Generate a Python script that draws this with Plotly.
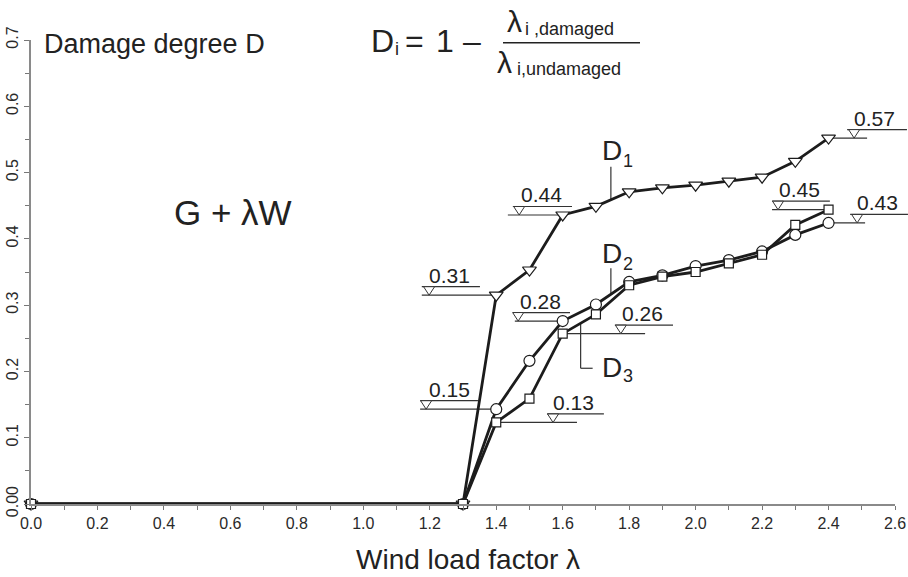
import numpy as np
import plotly.graph_objects as go

# ---------------- data ----------------
lam = [0.0, 1.3, 1.4, 1.5, 1.6, 1.7, 1.8, 1.9, 2.0, 2.1, 2.2, 2.3, 2.4]
D1 = [0.0, 0.0, 0.315, 0.353, 0.436, 0.449, 0.471, 0.477, 0.481, 0.487, 0.493, 0.517, 0.552]
D2 = [0.0, 0.0, 0.143, 0.216, 0.276, 0.301, 0.335, 0.345, 0.359, 0.368, 0.381, 0.406, 0.424]
D3 = [0.0, 0.0, 0.123, 0.159, 0.257, 0.286, 0.330, 0.343, 0.350, 0.363, 0.376, 0.421, 0.444]

x_ticks = [0.0, 0.2, 0.4, 0.6, 0.8, 1.0, 1.2, 1.4, 1.6, 1.8, 2.0, 2.2, 2.4, 2.6]
x_ticktext = ["0.0", "0.2", "0.4", "0.6", "0.8", "1.0", "1.2", "1.4", "1.6", "1.8", "2.0", "2.2", "2.4", "2.6"]
y_ticks = [0.0, 0.1, 0.2, 0.3, 0.4, 0.5, 0.6, 0.7]
y_ticktext = ["0.00", "0.1", "0.2", "0.3", "0.4", "0.5", "0.6", "0.7"]

# level labels: text, series, lambda of anchored point
level_labels = ["0.31", "0.15", "0.13", "0.28", "0.26", "0.44", "0.57", "0.45", "0.43"]
level_series = ["D1", "D2", "D3", "D2", "D3", "D1", "D1", "D3", "D2"]
level_lambda = [1.4, 1.4, 1.4, 1.6, 1.6, 1.6, 2.4, 2.4, 2.4]

# ---------------- layout geometry ----------------
W, H = 908, 577
L, R, T, B = 31, 13, 40, 73
PW, PH = W - L - R, H - T - B
XMAX, YMAX = 2.6, 0.7
FONT = "Liberation Sans, Arial, Helvetica, sans-serif"
TXT = "#222222"
LINEC = "#1c1c1c"
THIN = "#333333"

series = {"D1": D1, "D2": D2, "D3": D3}


def dx(x):  # data x -> pixel
    return L + x / XMAX * PW


def dy(y):  # data y -> pixel
    return T + PH - y / YMAX * PH


def px(p):  # pixel x -> paper
    return (p - L) / PW


def py(p):  # pixel y -> paper
    return (T + PH - p) / PH


def ann(text, x_px, y_px, size, xanchor="left"):
    return dict(text=text, x=px(x_px), y=py(y_px), xref="paper", yref="paper",
                xanchor=xanchor, yanchor="middle", showarrow=False, borderpad=0,
                font=dict(size=size, color=TXT, family=FONT))


def seg(x0, y0, x1, y1, width=1.2, color=THIN, layer="below"):
    return dict(type="line", xref="paper", yref="paper",
                x0=px(x0), y0=py(y0), x1=px(x1), y1=py(y1),
                line=dict(color=color, width=width), layer=layer)


fig = go.Figure()

fig.add_trace(go.Scatter(x=lam, y=D1, mode="lines+markers", name="D1",
                         line=dict(color=LINEC, width=2.8),
                         marker=dict(symbol="triangle-down", size=12, color="white",
                                     line=dict(color=LINEC, width=1.2)),
                         cliponaxis=False, showlegend=False))
fig.add_trace(go.Scatter(x=lam, y=D2, mode="lines+markers", name="D2",
                         line=dict(color=LINEC, width=2.8),
                         marker=dict(symbol="circle", size=11, color="white",
                                     line=dict(color=LINEC, width=1.2)),
                         cliponaxis=False, showlegend=False))
fig.add_trace(go.Scatter(x=lam, y=D3, mode="lines+markers", name="D3",
                         line=dict(color=LINEC, width=2.8),
                         marker=dict(symbol="square", size=9, color="white",
                                     line=dict(color=LINEC, width=1.2)),
                         cliponaxis=False, showlegend=False))

shapes = []
annotations = []

# level markers (pixel-offset decoration around anchored data points)
# lower line extent, upper line extent, triangle centre, label centre (in lambda units)
lower_ext = [(1.176, 1.4), (1.171, 1.4), (1.4, 1.643), (1.456, 1.6), (1.6, 1.848),
             (1.435, 1.6), (2.4, 2.516), (2.23, 2.4), (2.4, 2.51)]
upper_ext = [(1.176, 1.351), (1.171, 1.345), (1.553, 1.724), (1.450, 1.622), (1.757, 1.932),
             (1.450, 1.628), (2.456, 2.636), (2.23, 2.404), (2.465, 2.639)]
tri_c = [1.198, 1.189, 1.571, 1.466, 1.775, 1.469, 2.477, 2.248, 2.486]
lab_c = [1.258, 1.258, 1.634, 1.532, 1.839, 1.535, 2.537, 2.314, 2.546]

GAP = 8.5
for i, lbl in enumerate(level_labels):
    s = series[level_series[i]]
    val = s[lam.index(level_lambda[i])]
    ylow = dy(val)
    yup = ylow - GAP
    shapes.append(seg(dx(lower_ext[i][0]), ylow, dx(lower_ext[i][1]), ylow))
    shapes.append(seg(dx(upper_ext[i][0]), yup, dx(upper_ext[i][1]), yup))
    cx = dx(tri_c[i])
    path = "M{:.5f},{:.5f} L{:.5f},{:.5f} L{:.5f},{:.5f} Z".format(
        px(cx - 5.5), py(yup), px(cx + 5.5), py(yup), px(cx), py(ylow))
    shapes.append(dict(type="path", xref="paper", yref="paper", path=path,
                       fillcolor="white", line=dict(color=THIN, width=1), layer="above"))
    annotations.append(ann(lbl, dx(lab_c[i]), yup - 11.5, 21, xanchor="center"))

# leader lines for series names
x_l12 = 1.745
y1_line = float(np.interp(x_l12, lam, D1))
y2_line = float(np.interp(x_l12, lam, D2))
shapes.append(seg(dx(x_l12), dy(y1_line), dx(x_l12), dy(y1_line) - 33))
shapes.append(seg(dx(x_l12), dy(y2_line), dx(x_l12), dy(y2_line) - 26))
x_l3 = 1.654
y3_line = float(np.interp(x_l3, lam, D3))
shapes.append(seg(dx(x_l3), dy(y3_line), dx(x_l3), dy(y3_line) + 45))
shapes.append(seg(dx(x_l3), dy(y3_line) + 45, dx(x_l3) + 12, dy(y3_line) + 45))

# series labels
annotations += [
    ann("D", 601, 150.3, 28), ann("1", 622, 160.8, 18),
    ann("D", 601, 253.6, 28), ann("2", 622, 263.8, 18),
    ann("D", 601, 367.3, 28), ann("3", 622, 375.5, 18),
]

# titles and formula
annotations += [
    ann("Damage degree D", 43, 44.0, 27),
    ann("G + λW", 173, 212.8, 35),
    ann("D", 370, 41.2, 32),
    ann("i", 394, 48.8, 18),
    ann("=", 404, 41.2, 32),
    ann("1", 435, 41.2, 32),
    ann("–", 462, 41.2, 32),
    ann("λ", 506, 21.6, 30),
    ann("i ,damaged", 524, 28.8, 18),
    ann("λ", 496, 62.6, 30),
    ann("i,undamaged", 516, 68.8, 18),
    ann("Wind load factor λ", 468, 559.3, 28, xanchor="center"),
]
shapes.append(seg(503, 42.7, 640, 42.7, width=1.6, color=TXT, layer="above"))

fig.update_layout(
    width=W, height=H,
    margin=dict(l=L, r=R, t=T, b=B, pad=0, autoexpand=False),
    paper_bgcolor="white", plot_bgcolor="rgba(0,0,0,0)",
    shapes=shapes, annotations=annotations,
    font=dict(family=FONT, color=TXT),
    xaxis=dict(range=[0, XMAX], tickvals=x_ticks, ticktext=x_ticktext, automargin=False,
               showgrid=False, zeroline=False, showline=True, linecolor="#8a8a8a", linewidth=1.5,
               ticks="outside", ticklen=4, tickwidth=1.2, tickcolor="#777777",
               tickfont=dict(size=16, color="#2a2a2a", family=FONT),
               minor=dict(dtick=0.1, tick0=0, ticks="outside", ticklen=4, tickwidth=1.2,
                          tickcolor="#777777", showgrid=False),
               fixedrange=True),
    yaxis=dict(range=[0, YMAX], tickvals=y_ticks, ticktext=y_ticktext, tickangle=-90, automargin=False,
               showgrid=False, zeroline=False, showline=True, linecolor="#8a8a8a", linewidth=1.5,
               ticks="outside", ticklen=5, tickwidth=1.2, tickcolor="#777777",
               tickfont=dict(size=16, color="#2a2a2a", family=FONT),
               minor=dict(dtick=0.05, tick0=0, ticks="outside", ticklen=4, tickwidth=1.2,
                          tickcolor="#777777", showgrid=False),
               fixedrange=True),
)

fig.write_html("out.html")
